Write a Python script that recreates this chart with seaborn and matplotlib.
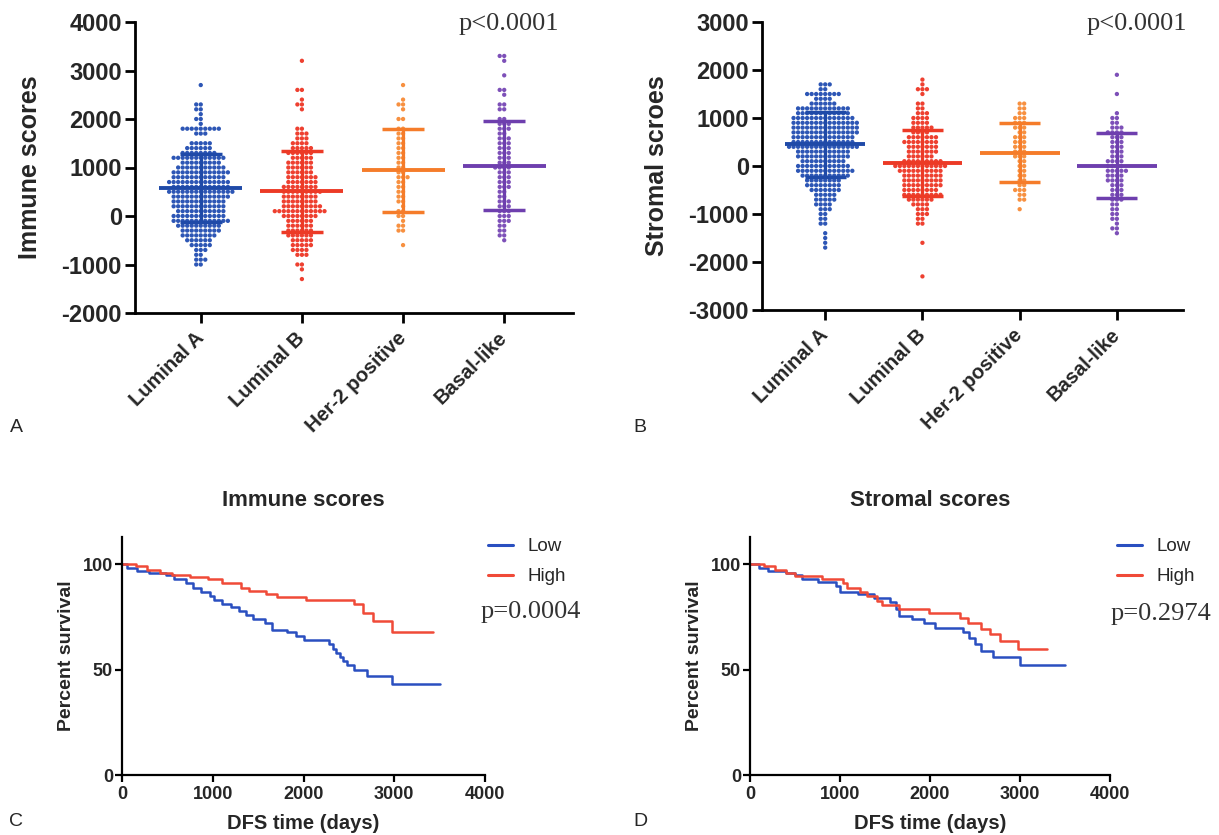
import numpy as np
import pandas as pd
import matplotlib
matplotlib.use("Agg")
import matplotlib.pyplot as plt
from matplotlib.lines import Line2D
import seaborn as sns

# ---------------------------------------------------------------- data
subtypes = ["Luminal A", "Luminal B", "Her-2 positive", "Basal-like"]

# Immune scores: score level and number of samples at that level
imm_lumA_lvl = [2700, 2300, 2200, 2100, 2000, 1900, 1800, 1700, 1500, 1400, 1300, 1200,
                1100, 1000, 900, 800, 700, 600, 500, 400, 300, 200, 100, 0, -100, -200,
                -300, -400, -500, -600, -700, -800, -900, -1000]
imm_lumA_cnt = [1, 2, 2, 1, 2, 1, 9, 3, 5, 6, 8, 12, 9, 11, 13, 12, 14, 13, 15, 13, 12, 12,
                11, 12, 13, 10, 9, 8, 6, 5, 3, 2, 3, 2]
imm_lumB_lvl = [3200, 2600, 2400, 2300, 2200, 1800, 1700, 1600, 1500, 1400, 1300, 1200,
                1100, 1000, 900, 800, 700, 600, 500, 400, 300, 200, 100, 0, -100, -200,
                -300, -400, -500, -600, -700, -800, -1000, -1100, -1300]
imm_lumB_cnt = [1, 2, 1, 2, 1, 2, 3, 3, 4, 5, 6, 5, 6, 6, 6, 7, 7, 8, 9, 8, 8, 9, 12, 8, 6,
                6, 6, 6, 5, 5, 4, 3, 2, 1, 1]
imm_her2_lvl = [2700, 2400, 2300, 2200, 2000, 1800, 1700, 1600, 1500, 1400, 1300, 1200,
                1100, 1000, 900, 800, 700, 600, 500, 400, 300, 200, 100, 0, -100, -200,
                -300, -600]
imm_her2_cnt = [1, 1, 2, 1, 2, 2, 2, 2, 2, 2, 2, 2, 2, 2, 2, 3, 2, 2, 2, 2, 2, 1, 2, 2, 1,
                2, 2, 1]
imm_basal_lvl = [3300, 3200, 2900, 2600, 2500, 2300, 2200, 2000, 1900, 1800, 1700, 1600,
                 1500, 1400, 1300, 1200, 1100, 1000, 900, 800, 700, 600, 500, 400, 300,
                 200, 100, 0, -100, -200, -300, -400, -500]
imm_basal_cnt = [2, 1, 1, 2, 1, 2, 2, 2, 3, 3, 2, 3, 3, 3, 3, 3, 3, 4, 3, 3, 3, 3, 2, 2, 3,
                 3, 3, 3, 3, 2, 2, 2, 1]
immune_means = [570, 510, 940, 1040]
immune_sds = [700, 840, 860, 925]

# Stromal scores: score level and number of samples at that level
str_lumA_lvl = [1700, 1600, 1500, 1400, 1300, 1200, 1100, 1000, 900, 800, 700, 600, 500,
                400, 300, 200, 100, 0, -100, -200, -300, -400, -500, -600, -700, -800,
                -900, -1000, -1100, -1200, -1400, -1500, -1600, -1700]
str_lumA_cnt = [3, 2, 8, 4, 6, 12, 12, 14, 15, 15, 15, 14, 14, 16, 12, 12, 10, 12, 13, 11,
                8, 8, 7, 5, 5, 4, 3, 2, 2, 2, 1, 1, 1, 1]
str_lumB_lvl = [1800, 1700, 1600, 1500, 1300, 1200, 1100, 1000, 900, 800, 700, 600, 500,
                400, 300, 200, 100, 0, -100, -200, -300, -400, -500, -600, -700, -800,
                -900, -1000, -1100, -1200, -1600, -2300]
str_lumB_cnt = [1, 1, 3, 1, 2, 2, 3, 4, 4, 5, 4, 7, 8, 7, 7, 6, 9, 12, 10, 9, 9, 9, 8, 9, 6,
                4, 3, 3, 2, 2, 1, 1]
str_her2_lvl = [1300, 1200, 1100, 1000, 900, 800, 700, 600, 500, 400, 300, 200, 100, 0,
                -100, -200, -300, -400, -500, -600, -700, -900]
str_her2_cnt = [2, 2, 2, 3, 3, 3, 2, 3, 3, 3, 3, 3, 2, 2, 2, 2, 2, 2, 3, 2, 2, 1]
str_basal_lvl = [1900, 1500, 1100, 1000, 900, 800, 700, 600, 500, 400, 300, 200, 100, 0,
                 -100, -200, -300, -400, -500, -600, -700, -800, -900, -1000, -1100, -1200,
                 -1300, -1400]
str_basal_cnt = [1, 1, 1, 2, 2, 3, 4, 3, 3, 3, 3, 3, 4, 4, 5, 4, 4, 3, 3, 3, 3, 2, 2, 2, 2,
                 1, 2, 1]
stromal_means = [450, 70, 280, 10]
stromal_sds = [680, 690, 620, 680]

# Kaplan-Meier curves: day of each step and percent survival after it
km_imm_low_t = [0, 60, 170, 300, 480, 570, 700, 780, 870, 970, 1010, 1100, 1200, 1290,
                1370, 1440, 1580, 1650, 1820, 1920, 2000, 2280, 2320, 2360, 2400, 2440,
                2480, 2560, 2700, 2980, 3500]
km_imm_low_s = [100, 98.5, 97, 96, 95, 93, 91, 89, 87, 85, 83, 81, 80, 78, 76, 74, 72, 69,
                68, 66, 64, 62, 60, 58, 56, 54, 52, 50, 47, 43, 43]
km_imm_high_t = [0, 150, 280, 420, 550, 750, 950, 1100, 1310, 1400, 1590, 1710, 2030, 2555,
                 2660, 2770, 2980, 3430]
km_imm_high_s = [100, 99, 97.5, 96, 95, 94, 93, 91, 89, 87.5, 86, 84.7, 83.2, 81, 77, 73,
                 68, 68]
km_str_low_t = [0, 100, 200, 400, 500, 580, 760, 950, 1000, 1200, 1380, 1560, 1620, 1660,
                1800, 1930, 2060, 2370, 2430, 2500, 2570, 2700, 3000, 3500]
km_str_low_s = [100, 98.5, 97, 96, 95, 93, 91.5, 89.5, 87, 86, 84, 82, 79, 75.5, 74, 72,
                70, 68, 65, 62, 59, 56, 52, 52]
km_str_high_t = [0, 150, 280, 400, 500, 800, 1030, 1080, 1220, 1300, 1410, 1470, 1650, 1990,
                 2330, 2420, 2565, 2670, 2780, 2980, 3300]
km_str_high_s = [100, 99, 97.5, 96, 94.5, 93, 91, 89, 87, 85, 82.5, 80.5, 79, 77, 74.5, 72,
                 69.5, 67, 63.5, 60, 60]

# ---------------------------------------------------------------- style
dot_colors = ["#2d56b5", "#ee4030", "#f79040", "#7d50b8"]
bar_colors = ["#1f4aa8", "#ec3a26", "#f57c2a", "#6e3fae"]
km_blue = "#2a4fc0"
km_red = "#f04a38"

sns.set_style("ticks")
plt.rcParams["font.family"] = ["Liberation Sans", "DejaVu Sans"]
plt.rcParams["axes.unicode_minus"] = False

W, H = 1219, 835
fig = plt.figure(figsize=(W / 100, H / 100), dpi=100)


def box(l, t, r, b):
    return [l / W, 1 - b / H, (r - l) / W, (b - t) / H]


def fpos(x, y):
    return x / W, 1 - y / H


def frame_from(levels_counts):
    rows = []
    for name, (lvl, cnt) in zip(subtypes, levels_counts):
        vals = np.repeat(np.asarray(lvl, float), np.asarray(cnt, int))
        rows.append(pd.DataFrame({"subtype": name, "score": vals}))
    return pd.concat(rows, ignore_index=True)


def style_axes(ax, lw, ticklen, pad):
    sns.despine(ax=ax)
    for side in ("left", "bottom"):
        ax.spines[side].set_linewidth(lw)
        ax.spines[side].set_color("black")
    ax.tick_params(axis="both", direction="out", length=ticklen, width=lw,
                   color="black", pad=pad)


def score_panel(ax, frame, means, sds, ylim, ylabel, label_x):
    sns.swarmplot(data=frame, x="subtype", y="score", hue="subtype", order=subtypes,
                  hue_order=subtypes, palette=dot_colors, size=3.1, linewidth=0,
                  legend=False, ax=ax, zorder=3)
    for i, (m, s) in enumerate(zip(means, sds)):
        c = bar_colors[i]
        ax.hlines(m, i - 0.41, i + 0.41, color=c, lw=2.8, zorder=5)
        ax.vlines(i, m - s, m + s, color=c, lw=2.3, zorder=5)
        ax.hlines([m - s, m + s], i - 0.21, i + 0.21, color=c, lw=2.5, zorder=5)
    ax.set_xlim(-0.65, 3.68)
    ax.set_ylim(*ylim)
    ax.set_yticks(np.arange(ylim[0], ylim[1] + 1, 1000))
    ax.set_xticks(range(len(subtypes)))
    ax.set_xticklabels(subtypes, rotation=45, ha="right", va="center",
                       rotation_mode="anchor", fontsize=14.5, fontweight="bold")
    for t in ax.get_yticklabels():
        t.set_fontsize(17)
        t.set_fontweight("bold")
    ax.set_xlabel("")
    ax.set_ylabel(ylabel, fontsize=18, fontweight="bold")
    ax.yaxis.set_label_coords(label_x, 0.5)
    style_axes(ax, 2.0, 7, 2.5)
    ax.tick_params(axis="x", pad=9)


def km_panel(ax, lt, ls, ht, hs, title, label_x):
    sns.lineplot(x=lt, y=ls, drawstyle="steps-post", color=km_blue, lw=1.8,
                 estimator=None, ax=ax)
    sns.lineplot(x=ht, y=hs, drawstyle="steps-post", color=km_red, lw=1.8,
                 estimator=None, ax=ax)
    ax.set_xlim(0, 4000)
    ax.set_ylim(0, 113)
    ax.set_xticks([0, 1000, 2000, 3000, 4000])
    ax.set_yticks([0, 50, 100])
    for t in ax.get_xticklabels() + ax.get_yticklabels():
        t.set_fontsize(13)
        t.set_fontweight("bold")
    ax.set_xlabel("DFS time (days)", fontsize=14.5, fontweight="bold", labelpad=8)
    ax.set_ylabel("Percent survival", fontsize=14, fontweight="bold")
    ax.yaxis.set_label_coords(label_x, 0.5)
    ax.set_title(title, fontsize=16, fontweight="bold", pad=22)
    style_axes(ax, 1.6, 5, 1.5)
    ax.tick_params(axis="x", pad=3)


# ---------------------------------------------------------------- panels
immune_df = frame_from([(imm_lumA_lvl, imm_lumA_cnt), (imm_lumB_lvl, imm_lumB_cnt),
                        (imm_her2_lvl, imm_her2_cnt), (imm_basal_lvl, imm_basal_cnt)])
stromal_df = frame_from([(str_lumA_lvl, str_lumA_cnt), (str_lumB_lvl, str_lumB_cnt),
                         (str_her2_lvl, str_her2_cnt), (str_basal_lvl, str_basal_cnt)])

axA = fig.add_axes(box(135, 22, 573, 313))
score_panel(axA, immune_df, immune_means, immune_sds, (-2000, 4000), "Immune scores", -0.213)

axB = fig.add_axes(box(762, 22, 1183, 310))
score_panel(axB, stromal_df, stromal_means, stromal_sds, (-3000, 3000), "Stromal scroes", -0.222)

axC = fig.add_axes(box(122, 537, 485, 775))
km_panel(axC, km_imm_low_t, km_imm_low_s, km_imm_high_t, km_imm_high_s, "Immune scores", -0.13)

axD = fig.add_axes(box(750, 537, 1110, 775))
km_panel(axD, km_str_low_t, km_str_low_s, km_str_high_t, km_str_high_s, "Stromal scores", -0.13)

# legends for the survival panels
handles = [Line2D([], [], color=km_blue, lw=2.2), Line2D([], [], color=km_red, lw=2.2)]
for ax, left in ((axC, 488), (axD, 1117)):
    ax.legend(handles, ["Low", "High"], loc="upper left",
              bbox_to_anchor=fpos(left, 538), bbox_transform=fig.transFigure,
              frameon=False, fontsize=13.5, handlelength=1.35, handletextpad=0.75,
              labelspacing=0.7, borderpad=0, borderaxespad=0)

# p values
serif = ["Liberation Serif", "DejaVu Serif"]
pcolor = "#333333"
fig.text(*fpos(509, 24), "p<0.0001", family=serif, fontsize=19, color=pcolor,
         ha="center", va="center")
fig.text(*fpos(1137, 24), "p<0.0001", family=serif, fontsize=19, color=pcolor,
         ha="center", va="center")
fig.text(*fpos(531, 612), "p=0.0004", family=serif, fontsize=19, color=pcolor,
         ha="center", va="center")
fig.text(*fpos(1161, 614), "p=0.2974", family=serif, fontsize=19, color=pcolor,
         ha="center", va="center")

# panel letters
for letter, (x, y) in zip("ABCD", [(16, 428), (640, 428), (16, 822), (640, 822)]):
    fig.text(*fpos(x, y), letter, fontsize=14, ha="center", va="center")

fig.savefig("out.png", dpi=100, facecolor="white")
